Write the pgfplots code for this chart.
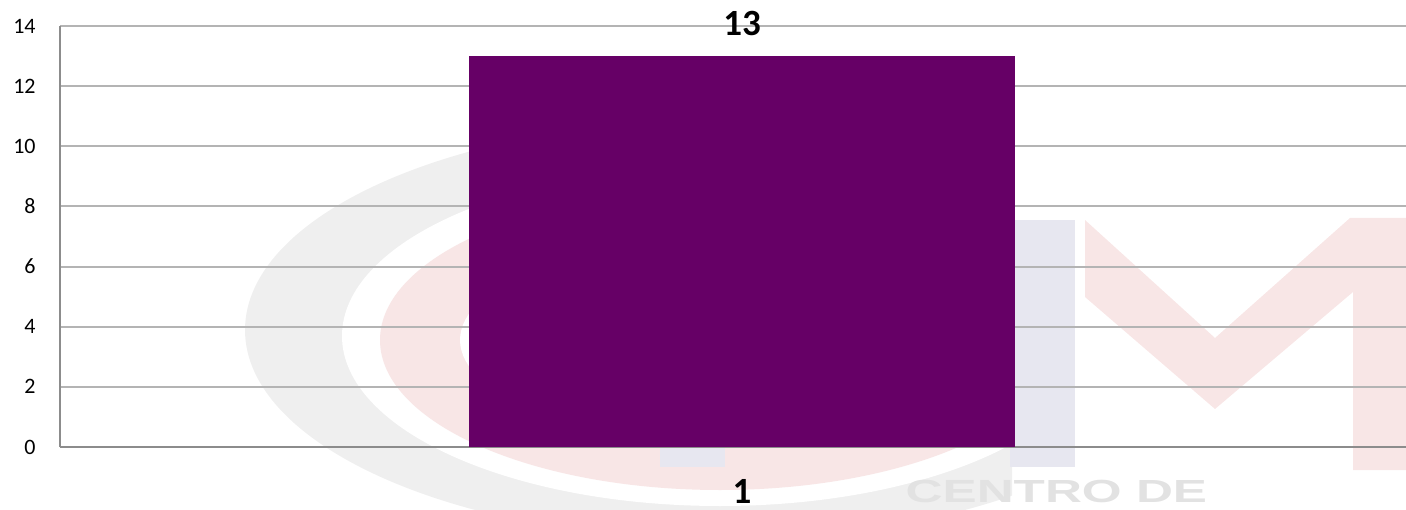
\documentclass[border=0pt]{standalone}
\usepackage{pgfplots}
\pgfplotsset{compat=1.18}
\usepackage{fontspec}
\setmainfont{Carlito}
\newfontfamily\wmfont{Liberation Sans}
\definecolor{barc}{HTML}{660066}
\definecolor{gridc}{HTML}{B4B4B4}
\definecolor{axc}{HTML}{8C8C8C}
\definecolor{wmgray}{HTML}{EFEFEF}
\definecolor{wmpink}{HTML}{F8E6E6}
\definecolor{wmlav}{HTML}{E7E7F0}
\definecolor{wmtext}{HTML}{E2E2E2}
\begin{document}
\begin{tikzpicture}
\useasboundingbox (0pt,0pt) rectangle (703pt,254.5pt);
\clip (0pt,0pt) rectangle (703pt,254.5pt);
% faint background watermark (pixel coordinates, y downwards)
\begin{scope}[x=0.5pt,y=-0.5pt,shift={(0pt,254.5pt)}]
\begin{scope}
\clip (0,0) rectangle (1012,509);
\fill[wmgray] (720,330) ellipse [x radius=475, y radius=210];
\fill[white] (720,336) ellipse [x radius=378, y radius=170];
\fill[wmpink] (720,340) ellipse [x radius=340, y radius=150];
\fill[white] (720,340) ellipse [x radius=260, y radius=100];
\end{scope}
\fill[wmlav] (660,220) rectangle (725,467);
\fill[wmlav] (1010,220) rectangle (1075,467);
\fill[wmpink] (1085,220) -- (1215,338) -- (1350,218) -- (1406,218) -- (1406,470)
  -- (1353,470) -- (1353,292) -- (1215,409) -- (1085,297) -- cycle;
\node[text=wmtext, font=\wmfont\bfseries\fontsize{16}{18}\selectfont, xscale=1.6,
  anchor=base west, inner sep=0] at (905,502) {CENTRO DE};
\end{scope}
\begin{axis}[
  at={(30pt,31pt)}, anchor=south west,
  scale only axis, width=682pt, height=210.5pt,
  xmin=0.5, xmax=1.5, ymin=0, ymax=14,
  ytick={0,2,...,14}, xtick={1}, xticklabels={1},
  ymajorgrids, grid style={gridc, line width=1pt},
  axis x line*=bottom, axis y line*=left,
  axis line style={axc, line width=1pt, -},
  major tick length=0pt,
  tick style={draw=none},
  yticklabel style={font=\fontsize{11}{13}\selectfont, anchor=east, inner sep=0pt, xshift=-12pt},
  xticklabel style={font=\bfseries\fontsize{18.5}{20}\selectfont, anchor=base, inner sep=0pt, yshift=-28pt},
  /pgf/number format/assume math mode=true,
  ybar, bar width=273pt,
  nodes near coords,
  every node near coord/.append style={font=\bfseries\fontsize{18.5}{20}\selectfont, anchor=base, inner sep=0pt, yshift=10.5pt, text=black},
]
\addplot[fill=barc, draw=none] coordinates {(1,13)};
\end{axis}
\end{tikzpicture}
\end{document}
